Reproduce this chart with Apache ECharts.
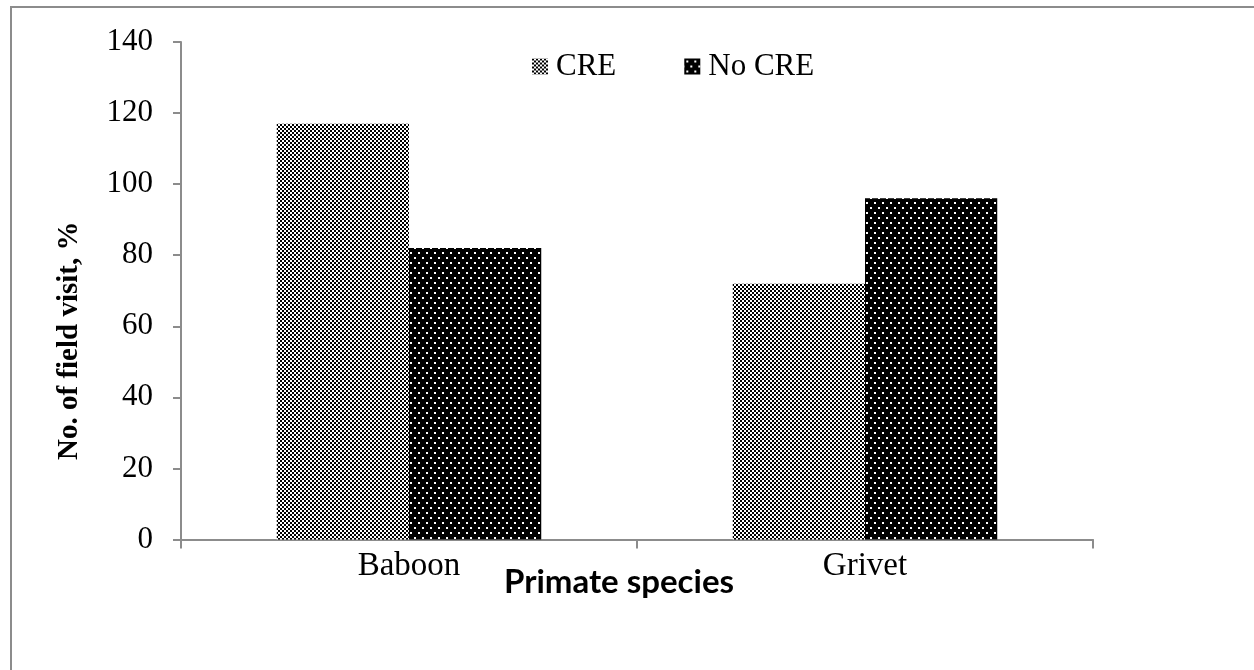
<!DOCTYPE html>
<html>
<head>
<meta charset="utf-8">
<script src="https://cdn.jsdelivr.net/npm/echarts@6/dist/echarts.min.js"></script>
<style>
html,body{margin:0;padding:0;background:#fff;}
#chart{width:1254px;height:670px;}
</style>
</head>
<body>
<div id="chart"></div>
<script>
const categories = ['Baboon', 'Grivet'];
const seriesNames = ['CRE', 'No CRE'];
const creValues = [117, 72];
const noCreValues = [82, 96];
const yTicks = [0, 20, 40, 60, 80, 100, 120, 140];

function makeChecker() {
  const c = document.createElement('canvas');
  c.width = 4; c.height = 4;
  const g = c.getContext('2d');
  g.fillStyle = '#fff'; g.fillRect(0, 0, 4, 4);
  g.fillStyle = '#000';
  g.fillRect(0, 0, 2, 2);
  g.fillRect(2, 2, 2, 2);
  return c;
}
function makeDots() {
  const c = document.createElement('canvas');
  c.width = 8; c.height = 10;
  const g = c.getContext('2d');
  g.fillStyle = '#000'; g.fillRect(0, 0, 8, 10);
  g.fillStyle = '#fff';
  g.fillRect(2, 2, 2, 2);
  g.fillRect(6, 7, 2, 2);
  return c;
}
const checker = { image: makeChecker(), repeat: 'repeat' };
const dots = { image: makeDots(), repeat: 'repeat' };

const chart = echarts.init(document.getElementById('chart'), null, { renderer: 'canvas' });
const axisColor = '#8c8c8c';
chart.setOption({
  animation: false,
  backgroundColor: '#fff',
  graphic: [{
    type: 'rect',
    shape: { x: 11, y: 7, width: 1300, height: 700 },
    style: { fill: 'none', stroke: '#8c8c8c', lineWidth: 2 },
    silent: true
  }],
  legend: {
    left: 527, top: 46,
    itemWidth: 16, itemHeight: 16, itemGap: 68,
    icon: 'rect',
    textStyle: { fontFamily: 'Liberation Serif', fontSize: 31, color: '#000', padding: [0, 0, 0, 3] },
    data: seriesNames
  },
  grid: { left: 181, right: 161, top: 42, bottom: 130.5, containLabel: false },
  xAxis: {
    type: 'category',
    data: categories,
    name: 'Primate species',
    nameLocation: 'middle',
    nameGap: 26,
    nameMoveOverlap: false,
    nameTextStyle: { fontFamily: 'Lato', fontWeight: 'bold', fontSize: 33, color: '#000', padding: [0, 36, 0, 0] },
    axisLine: { lineStyle: { color: axisColor, width: 2 } },
    axisTick: { show: true, length: 9, lineStyle: { color: axisColor, width: 2 }, alignWithLabel: false },
    axisLabel: { fontFamily: 'Liberation Serif', fontSize: 33, color: '#000', margin: 10 }
  },
  yAxis: {
    type: 'value',
    min: 0, max: 140, interval: 20,
    name: 'No. of field visit, %',
    nameLocation: 'middle',
    nameGap: 97,
    nameMoveOverlap: false,
    nameRotate: 90,
    nameTextStyle: { fontFamily: 'Liberation Serif', fontWeight: 'bold', fontSize: 29, color: '#000', padding: [0, 100, 0, 0] },
    axisLine: { show: true, lineStyle: { color: axisColor, width: 2 } },
    axisTick: { show: true, length: 8, lineStyle: { color: axisColor, width: 2 } },
    splitLine: { show: false },
    axisLabel: {
      fontFamily: 'Liberation Serif', fontSize: 31, color: '#000', margin: 28,
      formatter: function (v) { return yTicks.indexOf(v) >= 0 ? String(v) : ''; }
    }
  },
  series: [
    { name: seriesNames[0], type: 'bar', data: creValues, barGap: '0%', barCategoryGap: '42%',
      itemStyle: { color: checker } },
    { name: seriesNames[1], type: 'bar', data: noCreValues, barGap: '0%', barCategoryGap: '42%',
      itemStyle: { color: dots } }
  ]
});
</script>
</body>
</html>
